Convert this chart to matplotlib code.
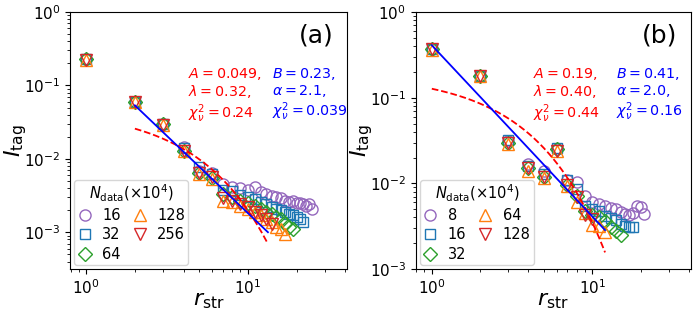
import numpy as np
import matplotlib
matplotlib.use("Agg")
import matplotlib.pyplot as plt

# ---------------- data: panel (a) ----------------
labels_a = ["16", "32", "64", "128", "256"]
Ia_16 = [0.23, 0.06, 0.03, 0.0145, 0.0068, 0.0065, 0.0045, 0.0042, 0.0040, 0.0038,
         0.0041, 0.0035, 0.0033, 0.0031, 0.0030, 0.0029, 0.0027, 0.0026, 0.0027, 0.0025,
         0.0025, 0.0024, 0.0023, 0.0024, 0.0021]
Ia_32 = [0.23, 0.06, 0.03, 0.014, 0.0078, 0.0062, 0.0038, 0.0036, 0.0032, 0.0030,
         0.0028, 0.0026, 0.0024, 0.0022, 0.0021, 0.0020, 0.0019, 0.0018, 0.0017, 0.0016,
         0.0015, 0.0014]
Ia_64 = [0.23, 0.06, 0.03, 0.013, 0.0065, 0.0055, 0.0033, 0.0030, 0.0027, 0.0025,
         0.0023, 0.0021, 0.0019, 0.0018, 0.0016, 0.0015, 0.0013, 0.0012, 0.0011]
Ia_128 = [0.225, 0.06, 0.029, 0.013, 0.0063, 0.0054, 0.0027, 0.0026, 0.0023, 0.0021,
          0.0019, 0.0017, 0.0015, 0.0014, 0.0012, 0.0011, 0.00095]
Ia_256 = [0.225, 0.06, 0.029, 0.013, 0.0065, 0.0057, 0.0029, 0.0027, 0.0024, 0.0022,
          0.0019, 0.0017, 0.0015, 0.0013]
fit_a = dict(A=0.049, lam=0.32, B=0.23, alpha=2.1, r0=2.0, r1=13.3)
txt_a_red = "$A=0.049$,\n$\\lambda=0.32$,\n$\\chi^2_\\nu=0.24$"
txt_a_blue = "$B=0.23$,\n$\\alpha=2.1$,\n$\\chi^2_\\nu=0.039$"

# ---------------- data: panel (b) ----------------
labels_b = ["8", "16", "32", "64", "128"]
Ib_8 = [0.37, 0.18, 0.031, 0.017, 0.014, 0.025, 0.011, 0.0105, 0.0072, 0.0060,
        0.0058, 0.0055, 0.0052, 0.0050, 0.0046, 0.0044, 0.0043, 0.0045, 0.0055, 0.0053,
        0.0044]
Ib_16 = [0.37, 0.18, 0.032, 0.016, 0.013, 0.026, 0.011, 0.0085, 0.0055, 0.0050,
         0.0047, 0.0042, 0.0039, 0.0037, 0.0034, 0.0032, 0.0031, 0.0031]
Ib_32 = [0.37, 0.18, 0.030, 0.015, 0.012, 0.025, 0.0095, 0.0072, 0.0048, 0.0043,
         0.0040, 0.0036, 0.0031, 0.0028, 0.0025]
Ib_64 = [0.36, 0.18, 0.029, 0.014, 0.0115, 0.024, 0.0092, 0.0060, 0.0045, 0.0033,
         0.0032, 0.0027]
Ib_128 = [0.37, 0.18, 0.030, 0.015, 0.012, 0.024, 0.0095, 0.0070, 0.0043, 0.0038]
fit_b = dict(A=0.19, lam=0.40, B=0.41, alpha=2.0, r0=1.0, r1=12.0)
txt_b_red = "$A=0.19$,\n$\\lambda=0.40$,\n$\\chi^2_\\nu=0.44$"
txt_b_blue = "$B=0.41$,\n$\\alpha=2.0$,\n$\\chi^2_\\nu=0.16$"

colors = ["#9467bd", "#1f77b4", "#2ca02c", "#ff7f0e", "#d62728"]
markers = ["o", "s", "D", "^", "v"]
msizes = [8, 7.5, 7, 8, 8]

fig = plt.figure(figsize=(6.98, 3.18), dpi=100)
ax_a = fig.add_axes([0.1003, 0.154, 0.3968, 0.808])
ax_b = fig.add_axes([0.5956, 0.154, 0.3940, 0.808])


def draw(ax, series, labels, fit, txt_red, txt_blue, tag, ylim):
    for I, lab, c, m, ms in zip(series, labels, colors, markers, msizes):
        r = np.arange(1, len(I) + 1)
        ax.plot(r, I, linestyle="none", marker=m, ms=ms, mfc="none", mec=c,
                mew=1.0, label=lab)
    rr = np.linspace(fit["r0"], fit["r1"], 200)
    ax.plot(rr, fit["A"] * np.exp(-fit["lam"] * rr), "r--", lw=1.3)
    ax.plot(rr, fit["B"] * rr ** (-fit["alpha"]), "b-", lw=1.3)
    ax.set_xscale("log")
    ax.set_yscale("log")
    ax.set_xlim(0.794, 41)
    ax.set_ylim(*ylim)
    ax.set_xlabel("$r_{\\mathrm{str}}$", fontsize=16, labelpad=-5)
    ax.set_ylabel("$I_{\\mathrm{tag}}$", fontsize=16, labelpad=-4)
    ax.tick_params(labelsize=11)
    ax.text(0.427, 0.79, txt_red, color="red", fontsize=10.3, transform=ax.transAxes,
            va="top", ha="left", linespacing=1.1)
    ax.text(0.728, 0.79, txt_blue, color="blue", fontsize=10.3, transform=ax.transAxes,
            va="top", ha="left", linespacing=1.1)
    ax.text(0.95, 0.955, tag, fontsize=18, transform=ax.transAxes, ha="right", va="top")
    leg = ax.legend(loc="lower left", ncol=2, fontsize=10.5,
                    title="$N_{\\mathrm{data}}(\\times10^4)$", title_fontsize=10.5,
                    handlelength=1.0, handletextpad=0.7, columnspacing=0.8,
                    labelspacing=0.3, borderpad=0.2, borderaxespad=0.3,
                    markerscale=1.0)
    return leg


draw(ax_a, [Ia_16, Ia_32, Ia_64, Ia_128, Ia_256], labels_a, fit_a, txt_a_red, txt_a_blue,
     "(a)", (10 ** -3.5, 1))
draw(ax_b, [Ib_8, Ib_16, Ib_32, Ib_64, Ib_128], labels_b, fit_b, txt_b_red, txt_b_blue,
     "(b)", (1e-3, 1))

fig.savefig("out.png", dpi=100)
